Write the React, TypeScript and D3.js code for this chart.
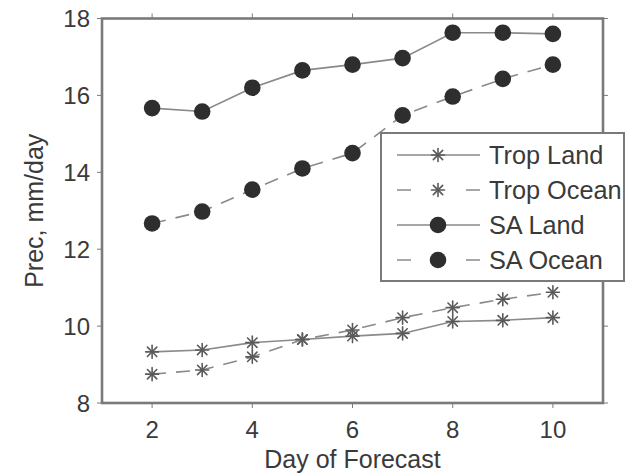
import React from "react";
import * as d3 from "d3";

const days = [2, 3, 4, 5, 6, 7, 8, 9, 10];
const tropLand = [9.33, 9.38, 9.57, 9.65, 9.74, 9.81, 10.12, 10.15, 10.22];
const tropOcean = [8.75, 8.86, 9.2, 9.65, 9.9, 10.22, 10.48, 10.7, 10.88];
const saLand = [15.67, 15.58, 16.2, 16.65, 16.8, 16.97, 17.63, 17.63, 17.6];
const saOcean = [12.67, 12.98, 13.55, 14.1, 14.5, 15.48, 15.97, 16.43, 16.8];
const xTicks = [2, 4, 6, 8, 10];
const yTicks = [8, 10, 12, 14, 16, 18];
const seriesNames = ["Trop Land", "Trop Ocean", "SA Land", "SA Ocean"];

const W = 637, H = 475;
const L = 102, R = 603, T = 18.5, B = 403;
const FONT = "'Liberation Sans', Arial, Helvetica, sans-serif";
const AXIS = "#7a7a7a";
const LINE = "#8a8a8a";
const TEXT = "#3a3a3a";

type S = { name: string; values: number[]; dashed: boolean; marker: "star" | "circle" };
const series: S[] = [
  { name: seriesNames[0], values: tropLand, dashed: false, marker: "star" },
  { name: seriesNames[1], values: tropOcean, dashed: true, marker: "star" },
  { name: seriesNames[2], values: saLand, dashed: false, marker: "circle" },
  { name: seriesNames[3], values: saOcean, dashed: true, marker: "circle" },
];

function Star({ x, y }: { x: number; y: number }) {
  const r = 6.5;
  const d = r * 0.72;
  return (
    <g stroke="#5a5a5a" strokeWidth={1.6} strokeLinecap="round">
      <line x1={x - r} y1={y} x2={x + r} y2={y} />
      <line x1={x} y1={y - r} x2={x} y2={y + r} />
      <line x1={x - d} y1={y - d} x2={x + d} y2={y + d} />
      <line x1={x - d} y1={y + d} x2={x + d} y2={y - d} />
    </g>
  );
}

function Marker({ kind, x, y }: { kind: "star" | "circle"; x: number; y: number }) {
  return kind === "circle" ? <circle cx={x} cy={y} r={8.3} fill="#2e2e2e" /> : <Star x={x} y={y} />;
}

export default function App() {
  const x = d3.scaleLinear().domain([1, 11]).range([L, R]);
  const y = d3.scaleLinear().domain([8, 18]).range([B, T]);
  const line = d3
    .line<number>()
    .x((_, i) => x(days[i]))
    .y((v) => y(v));

  const legX = 381, legY = 133, legW = 243, legH = 148;
  const rowY = (i: number) => 155 + i * 35;

  return (
    <svg width={W} height={H} style={{ position: "absolute", left: 0, top: 0, background: "#fff" }} fontFamily={FONT}>
      {xTicks.map((t) => (
        <g key={"xt" + t} stroke={AXIS} strokeWidth={1}>
          <line x1={x(t)} x2={x(t)} y1={B} y2={B + 5} />
          <line x1={x(t)} x2={x(t)} y1={T} y2={T - 5} />
        </g>
      ))}
      {yTicks.map((t) => (
        <g key={"yt" + t} stroke={AXIS} strokeWidth={1}>
          <line x1={L} x2={L - 5} y1={y(t)} y2={y(t)} />
          <line x1={R} x2={R + 5} y1={y(t)} y2={y(t)} />
        </g>
      ))}
      <rect x={L} y={T} width={R - L} height={B - T} fill="none" stroke={AXIS} strokeWidth={2.6} />

      {series.map((s) => (
        <g key={s.name}>
          <path
            d={line(s.values) || ""}
            fill="none"
            stroke={LINE}
            strokeWidth={1.6}
            strokeDasharray={s.dashed ? "14 10" : undefined}
          />
          {s.values.map((v, i) => (
            <Marker key={i} kind={s.marker} x={x(days[i])} y={y(v)} />
          ))}
        </g>
      ))}

      {xTicks.map((t) => (
        <text key={"xl" + t} x={x(t)} y={438} textAnchor="middle" fontSize={24} fill={TEXT}>
          {t}
        </text>
      ))}
      {yTicks.map((t) => (
        <text key={"yl" + t} x={90} y={y(t) + 8.5} textAnchor="end" fontSize={24} fill={TEXT}>
          {t}
        </text>
      ))}

      <text x={(L + R) / 2} y={468} textAnchor="middle" fontSize={25} fill={TEXT}>
        Day of Forecast
      </text>
      <text
        transform={`translate(${43},${(T + B) / 2}) rotate(-90)`}
        textAnchor="middle"
        fontSize={25}
        fill={TEXT}
      >
        Prec, mm/day
      </text>

      <rect x={legX} y={legY} width={legW} height={legH} fill="#fff" stroke={AXIS} strokeWidth={2} />
      {series.map((s, i) => (
        <g key={"lg" + s.name}>
          <line
            x1={397}
            x2={480}
            y1={rowY(i)}
            y2={rowY(i)}
            stroke={LINE}
            strokeWidth={1.6}
            strokeDasharray={s.dashed ? "14 55" : undefined}
          />
          <Marker kind={s.marker} x={438} y={rowY(i)} />
          <text x={489} y={rowY(i) + 9} fontSize={25.3} fill={TEXT}>
            {s.name}
          </text>
        </g>
      ))}
    </svg>
  );
}
